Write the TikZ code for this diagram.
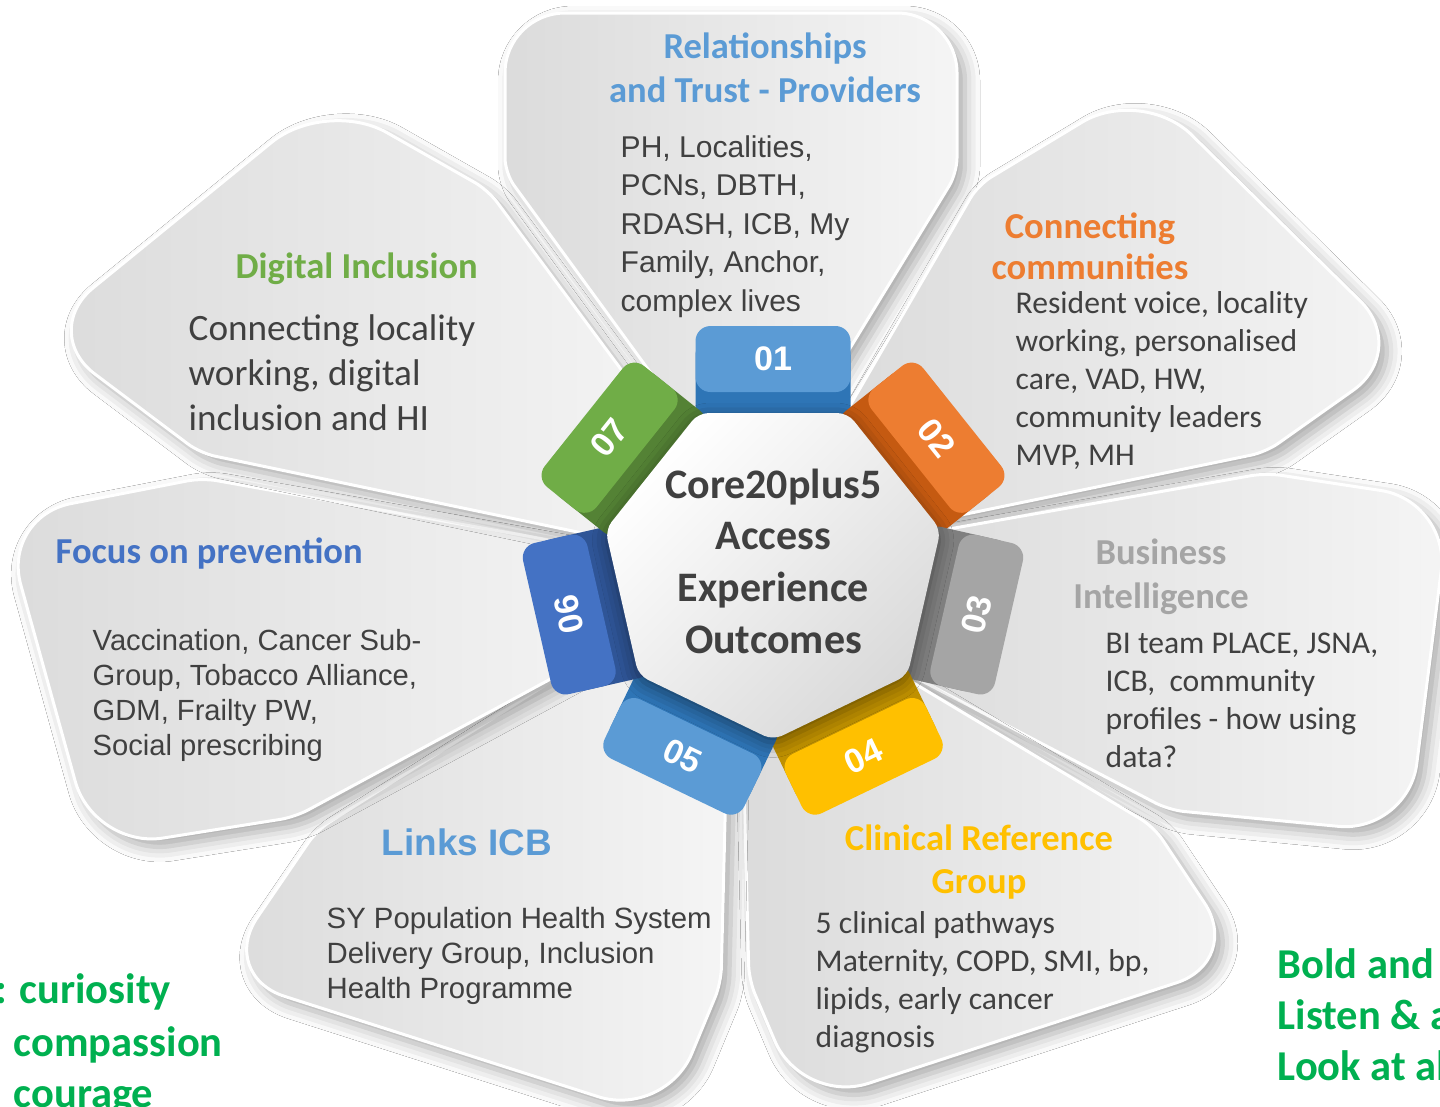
\documentclass[tikz,border=0pt]{standalone}
\usepackage{fontspec}
\setmainfont{Carlito}
\newfontfamily\arialfont{Liberation Sans}
\usepackage{xcolor}
\usepackage{tikz}
\usetikzlibrary{shapes.geometric, shadows.blur}

\definecolor{ink}{HTML}{404040}
\definecolor{blueA}{HTML}{5B9BD5}
\definecolor{blueAd}{HTML}{2E75B6}
\definecolor{orangeA}{HTML}{ED7D31}
\definecolor{orangeAd}{HTML}{C55A11}
\definecolor{greyA}{HTML}{A5A5A5}
\definecolor{greyAd}{HTML}{7F7F7F}
\definecolor{goldA}{HTML}{FFC000}
\definecolor{goldAd}{HTML}{BF9000}
\definecolor{navyA}{HTML}{4472C4}
\definecolor{navyAd}{HTML}{2F5597}
\definecolor{leafA}{HTML}{70AD47}
\definecolor{leafAd}{HTML}{548235}
\definecolor{valgreen}{HTML}{00B050}

\newcommand{\fsz}[2]{\fontsize{#1}{#2}\selectfont}

\tikzset{
  petal/.style={
    draw=white, line width=0.3mm, rounded corners=1.5mm,
    left color=black!14, right color=black!4,
    blur shadow={shadow xshift=0.8mm, shadow yshift=-0.8mm,
      shadow blur radius=1.5mm, shadow opacity=35}
  },
  hub/.style={
    regular polygon, regular polygon sides=7, shape border rotate=180,
    minimum size=34.4mm, inner sep=0, rounded corners=1mm,
    top color=white, bottom color=black!15, shading angle=45,
    blur shadow={shadow xshift=0mm, shadow yshift=-0.5mm,
      shadow blur radius=1.5mm, shadow opacity=45}
  },
  tabnum/.style={font=\arialfont\bfseries\fsz{9.7}{11}, text=white, inner sep=0}
}

\begin{document}
\begin{tikzpicture}[x=0.1mm, y=-0.1mm,
  title/.style={font=\bfseries\fsz{10.4}{12.5}, align=center, inner sep=0, anchor=north},
  head/.style={font=\bfseries\fsz{10.4}{12.5}, inner sep=0, anchor=base west},
  body/.style={font=\fsz{9}{10.8}, text=ink, align=left, inner sep=0, anchor=north west},
  abody/.style={font=\arialfont\fsz{8.35}{10.05}, text=ink, align=left, inner sep=0, anchor=north west},
  value/.style={font=\bfseries\fsz{12.1}{14.5}, text=valgreen, align=left, inner sep=0}]
  \useasboundingbox (0,0) rectangle (1440,1106);
  \clip (0,0) rectangle (1440,1106);
  \fill[white] (0,0) rectangle (1440,1106);

  % petals around the hub, outer corners rounded more
  \path[petal] (704,446) -- (505,173) [rounded corners=6mm] -- (505,13) -- (957,13)
    [rounded corners=1.5mm] -- (957,173) -- (800,430) -- cycle;
  \path[petal] (830,440) -- (978,185) [rounded corners=7mm] -- (1142,86) -- (1410,350)
    [rounded corners=1.5mm] -- (1266,452) -- (908,526) -- cycle;
  \path[petal] (909,536) -- (1266,473) [rounded corners=7mm] -- (1450,501) -- (1408,833)
    [rounded corners=1.5mm] -- (1169,810) -- (878,658) -- cycle;
  \path[petal] (877,661) -- (1154,827) [rounded corners=7mm] -- (1243,961) -- (802,1105)
    [rounded corners=1.5mm] -- (749,980) -- (742,708) -- cycle;
  \path[petal] (728,700) -- (721,983) [rounded corners=7mm] -- (665,1118) -- (218,975)
    [rounded corners=1.5mm] -- (317,830) -- (643,623) -- cycle;
  \path[petal] (645,628) -- (295,817) [rounded corners=7mm] -- (94,849) -- (2,517)
    [rounded corners=1.5mm] -- (202,478) -- (634,555) -- cycle;
  \path[petal] (635,544) -- (200,453) [rounded corners=7mm] -- (39,332) -- (326,98)
    [rounded corners=1.5mm] -- (488,190) -- (686,457) -- cycle;

  % numbered tabs
  \foreach \n/\ang/\face/\side/\rot in {01/90/blueA/blueAd/0,
      02/38.57/orangeA/orangeAd/-51.43, 03/-12.86/greyA/greyAd/77.14,
      04/-64.29/goldA/goldAd/25.71, 05/-115.71/blueA/blueAd/-25.71,
      06/-167.14/navyA/navyAd/102.86, 07/141.43/leafA/leafAd/51.43}
  {
    \begin{scope}[shift={(773,568)}, rotate=\ang-90]
      \fill[\side, rounded corners=1.5mm] (-77.5,-140) rectangle (77.5,-228);
      \fill[\face, rounded corners=1.5mm] (-77.5,-176) rectangle (77.5,-242);
      \node[tabnum, rotate=\rot] (n\n) at (0,-209) {\n};
    \end{scope}
  }

  \node[hub] (hub) at (773,568) {};
  \node[font=\bfseries\fsz{11.95}{14.7}, text=ink, align=center, inner sep=0, anchor=north]
    (core) at (773.5,468) {Core20plus5\\Access\\Experience\\Outcomes};

  % titles and texts
  \node[title, text=blueA] (rel) at (765,32) {Relationships\\and Trust - Providers};
  \node[abody, font=\arialfont\fsz{8.55}{10.95}] (relbody) at (620,135)
    {PH, Localities,\\PCNs, DBTH,\\RDASH, ICB, My\\Family, Anchor,\\complex lives};

  \node[title, text=orangeA, font=\bfseries\fsz{10.4}{11.7}] (comm) at (1090,212) {Connecting\\communities};
  \node[body] (commbody) at (1015,291)
    {Resident voice, locality\\working, personalised\\care, VAD, HW,\\community leaders\\MVP, MH};

  \node[title, text=greyA] (bi) at (1161,538) {Business\\Intelligence};
  \node[body] (bibody) at (1105,632)
    {BI team PLACE, JSNA,\\ICB,~ community\\profiles - how using\\data?};

  \node[title, text=goldA, font=\bfseries\fsz{10.4}{12.2}] (crg) at (979,824) {Clinical Reference\\Group};
  \node[body] (crgbody) at (815,911)
    {5 clinical pathways\\Maternity, COPD, SMI, bp,\\lipids, early cancer\\diagnosis};

  \node[head, font=\arialfont\bfseries\fsz{10.5}{12}, text=blueA] (icb) at (381,855) {Links ICB};
  \node[abody] (icbbody) at (326,906)
    {SY Population Health System\\Delivery Group, Inclusion\\Health Programme};

  \node[head, text=navyA] (prev) at (55,563) {Focus on prevention};
  \node[abody, font=\arialfont\fsz{8.3}{9.96}] (prevbody) at (92,629)
    {Vaccination, Cancer Sub-\\Group, Tobacco Alliance,\\GDM, Frailty PW,\\Social prescribing};

  \node[head, text=leafA] (digi) at (235,278) {Digital Inclusion};
  \node[body, font=\fsz{10.58}{12.8}] (digibody) at (188,314)
    {Connecting locality\\working, digital\\inclusion and HI};

  % values down the sides
  \node[value, anchor=base west] (valA) at (-5.5,1003) {: curiosity};
  \node[value, anchor=north west] (valB) at (13,1026) {compassion\\courage};
  \node[value, anchor=north west] (valC) at (1277,948) {Bold and\\Listen \& a\\Look at al};
\end{tikzpicture}
\end{document}
